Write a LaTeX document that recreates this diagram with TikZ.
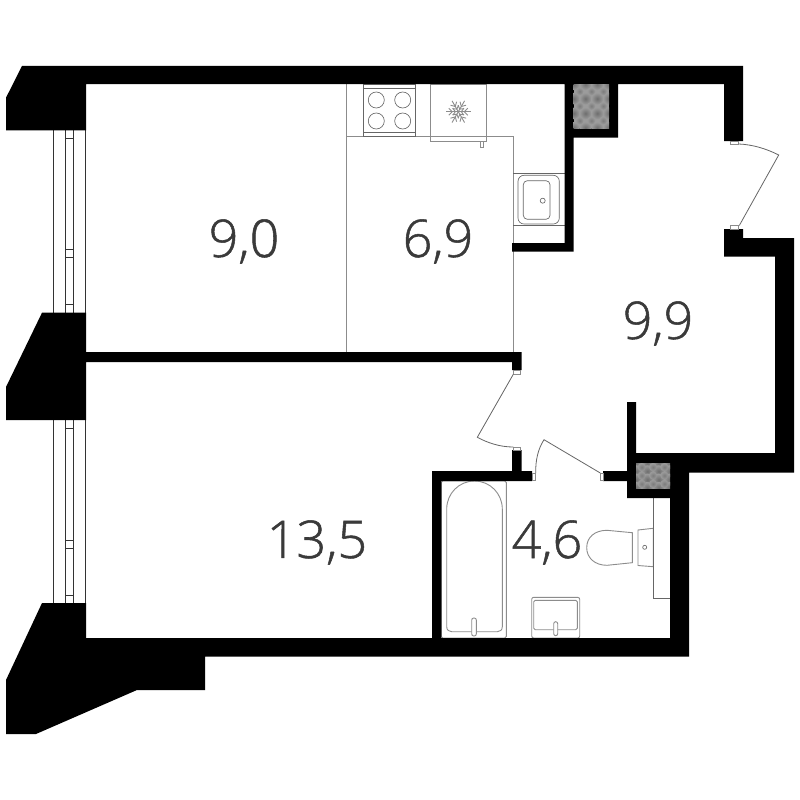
\documentclass[tikz,border=0pt]{standalone}
\usepackage{fontspec}
\newfontfamily\lblfont{Open Sans Light}[FakeBold=1]
\definecolor{wallc}{HTML}{000000}
\definecolor{fixc}{HTML}{8C8C8C}
\definecolor{darkc}{HTML}{666666}
\definecolor{winc}{HTML}{333333}
\definecolor{txtc}{HTML}{3A3A3A}
\definecolor{shafta}{HTML}{9C9C9C}
\definecolor{shaftb}{HTML}{6E6E6E}
\tikzset{
  wall/.style={fill=wallc,draw=none},
  fixture/.style={draw=fixc,line width=0.9pt,fill=none},
  fixdark/.style={draw=darkc,line width=0.65pt,fill=none},
  winline/.style={draw=winc,line width=0.9pt},
  doorline/.style={draw=darkc,line width=0.8pt},
  jamb/.style={draw=fixc,line width=0.9pt,fill=white},
  area/.style={text=txtc,inner sep=0pt,font=\lblfont\fontsize{52}{52}\selectfont},
  snow/.style={draw=fixc,line width=0.9pt}
}
\newcommand{\shaftdots}[4]{% x0 y0 x1 y1
  \fill[shafta] (#1,#2) rectangle (#3,#4);
  \begin{scope}
    \clip (#1,#2) rectangle (#3,#4);
    \pgfmathsetmacro{\dxx}{(#3-#1)/3}
    \pgfmathsetmacro{\dyy}{(#4-#2)/3}
    \foreach \i in {0,1,2,3}{\foreach \j in {0,1,2,3}{
      \shade[inner color=shaftb,outer color=shafta]
        ({#1+\i*\dxx},{#2+\j*\dyy}) circle (6);
    }}
    \foreach \i in {0,1,2}{\foreach \j in {0,1,2}{
      \shade[inner color=shaftb!70!shafta,outer color=shafta]
        ({#1+(\i+0.5)*\dxx},{#2+(\j+0.5)*\dyy}) circle (4);
    }}
  \end{scope}
}
\begin{document}
\begin{tikzpicture}[x=1pt,y=-1pt]
\useasboundingbox[fill=white] (0,0) rectangle (800,800);

% fixtures, kitchen
\draw[fixture] (346,84) -- (346,352);
\draw[fixture] (346,136) -- (513,136) -- (513,352);
\draw[fixdark] (363.3,84) rectangle (415.3,136);
\draw[fixdark] (363.3,88.3) -- (415.3,88.3);
\draw[fixdark] (363.3,132.3) -- (415.3,132.3);
\foreach \cx in {376.3,402.7}{\foreach \cy in {100,121}{
  \draw[fixdark] (\cx,\cy) circle (8);
}}
\draw[fixture] (430,84) rectangle (486.7,141);
\draw[fixture] (430,136) -- (486.7,136);
\draw[fixture,fill=white] (480.5,141) rectangle (483.5,147);
\begin{scope}[shift={(458.3,111.7)}]
  \foreach \a in {0,60,120,180,240,300}{
    \begin{scope}[rotate=\a]
      \draw[snow] (0,0) -- (12.5,0);
      \draw[snow] (6,0) -- (9.5,-3.5) (6,0) -- (9.5,3.5);
      \draw[snow] (3,0) -- (5.5,-3.5) (3,0) -- (5.5,3.5);
    \end{scope}
  }
\end{scope}
\draw[fixdark] (513,173.3) -- (565,173.3);
\draw[fixdark] (513,225.7) -- (565,225.7);
\draw[fixdark,rounded corners=6pt] (518,175.3) rectangle (559.3,224);
\draw[fixdark,rounded corners=4pt] (523.3,180.7) rectangle (550,219.3);
\draw[fixdark] (542.7,200.7) circle (2.5);

% bathroom
\draw[fixture,rounded corners=1.5pt] (441.3,481) rectangle (506.3,638);
\draw[fixture] (446.7,509) .. controls (446.7,493.5) and (459,481) .. (474.5,481) .. controls (490,481) and (502.3,493.5) .. (502.3,509) -- (502.3,626.7) .. controls (502.3,630) and (500,631.7) .. (497.3,631.7) -- (451.7,631.7) .. controls (449,631.7) and (446.7,630) .. (446.7,626.7) -- cycle;
\draw[fixture,fill=white,rounded corners=2pt] (471.7,618) rectangle (476.3,636);
\draw[fixture,rounded corners=2pt] (531.7,597.3) rectangle (579.7,638);
\draw[fixture,rounded corners=1.5pt] (533.7,600.3) rectangle (577.3,629.7);
\draw[fixture,fill=white,rounded corners=2pt] (553.7,621.7) rectangle (557.7,635.7);
\draw[fixture] (638,530) -- (653.3,528.3) -- (653.3,566.7) -- (638,565.5) -- cycle;
\draw[fixdark] (644.7,547.3) circle (2);
\draw[fixture] (632.3,532.7) -- (607,530.3) .. controls (595,530.3) and (586.7,537) .. (586.7,547.7) .. controls (586.7,558) and (595,565.3) .. (607,565.3) -- (632.3,562.7) -- cycle;
\draw[fixdark] (653.3,498) -- (653.3,598.3) -- (670,598.3);

% windows
\foreach \yt/\yb/\ya/\yc/\yd/\ye in {130/313/138/249/257/304,420/603/428/540/548/595}{
  \draw[winline] (53.5,\yt) -- (53.5,\yb);
  \draw[winline] (65.5,\yt) -- (65.5,\yb);
  \draw[winline] (73.5,\yt) -- (73.5,\yb);
  \draw[winline] (85.5,\yt) -- (85.5,\yb);
  \foreach \yy in {\ya,\yc,\yd,\ye}{\draw[winline] (65.5,\yy) -- (73.5,\yy);}
}

% walls
\fill[wall] (22,66) -- (743,66) -- (743,141) -- (724,141) -- (724,84) -- (618,84) -- (618,137.7) -- (573.7,137.7) -- (573.7,251.7) -- (512,251.7) -- (512,243) -- (564.7,243) -- (564.7,84) -- (86,84) -- (86,130.3) -- (6,130.3) -- (6,97.7) -- cycle;
\fill[wall] (42,312.7) -- (86,312.7) -- (86,352) -- (521.7,352) -- (521.7,370) -- (512,370) -- (512,362) -- (86,362) -- (86,420) -- (6,420) -- (6,387) -- cycle;
\fill[wall] (724,229) -- (743,229) -- (743,238) -- (794,238) -- (794,472.7) -- (689,472.7) -- (689,656.7) -- (205,656.7) -- (205,690) -- (137,690) -- (36,734) -- (6,734) -- (6,680) -- (42,603) -- (86,603) -- (86,638) -- (432,638) -- (432,471) -- (512,471) -- (512,450) -- (521.7,450) -- (521.7,471) -- (532,471) -- (532,481) -- (441.3,481) -- (441.3,638) -- (670,638) -- (670,498) -- (627,498) -- (627,481) -- (603,481) -- (603,471) -- (627,471) -- (627,402) -- (636,402) -- (636,453) -- (775,453) -- (775,256.7) -- (724,256.7) -- cycle;

% shafts
\shaftdots{573.7}{84}{609}{128}
\shaftdots{636}{463}{670}{488}

% doors
\draw[jamb] (730.3,141) rectangle (738.7,144);
\draw[jamb] (730.3,225.5) rectangle (738.7,229);
\draw[doorline] (739.3,225.5) -- (778.7,155) .. controls (766,148.5) and (752,144.5) .. (738.7,144);
\draw[jamb] (513.3,370.5) rectangle (520.3,374.3);
\draw[jamb] (513.3,447) rectangle (520.3,450);
\draw[doorline] (513.3,374.3) -- (477.3,437.3) .. controls (488,443) and (500,447) .. (513.3,447);
\draw[jamb] (532.3,473) rectangle (535.7,480.5);
\draw[jamb] (600.3,473) rectangle (603,480.5);
\draw[doorline] (600.3,473) -- (544,439.7) .. controls (538,449) and (535.5,460) .. (535.7,473);

% labels
\node[area] (a) at (244,241.5) {9,0};
\node[area] (b) at (438,241.5) {6,9};
\node[area] (c) at (658,323.5) {9,9};
\node[area] (d) at (317,542.5) {13,5};
\node[area] (e) at (547,542.5) {4,6};
\end{tikzpicture}
\end{document}
